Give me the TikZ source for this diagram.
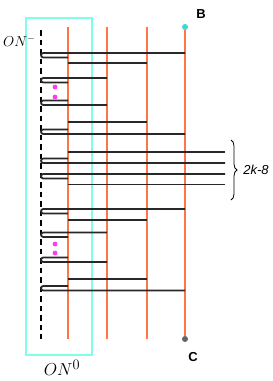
\documentclass[tikz,border=0pt]{standalone}
\usepackage{fontspec}
\setsansfont{Liberation Sans}
\usetikzlibrary{positioning, decorations.pathreplacing}

\definecolor{railorange}{RGB}{255,118,68}
\definecolor{boxcyan}{RGB}{125,255,232}
\definecolor{dotcyan}{RGB}{64,214,214}
\definecolor{dotgray}{RGB}{100,100,100}
\definecolor{dotpink}{RGB}{255,60,235}
\definecolor{wiregray}{RGB}{40,40,40}

\begin{document}
\begin{tikzpicture}[
    x=1pt, y=-1pt,
    wire/.style={line width=1.8pt, draw=wiregray},
    rail/.style={line width=1.2pt, draw=railorange},
    core/.style={line width=1.3pt, dash pattern=on 5.5pt off 4pt},
    frame/.style={rectangle, draw=boxcyan, line width=2pt,
                  minimum width=66pt, minimum height=337pt, inner sep=0pt},
    pin/.style={circle, inner sep=0pt, minimum size=6pt},
    crumb/.style={circle, fill=dotpink, inner sep=0pt, minimum size=4.8pt},
    tag/.style={font=\sffamily\bfseries\fontsize{13}{15}\selectfont},
    brace/.style={decorate, decoration={brace, amplitude=6pt}, line width=0.8pt}
]
  \useasboundingbox (0,0) rectangle (273,381);

  % Region box
  \node[frame, anchor=north west] (box) at (25,17) {};
  \node[font=\fontsize{19}{22}\selectfont, anchor=base] (on0) at (62,375.5) {$ON^0$};

  % Dashed core line
  \coordinate (core) at (41,30);
  \coordinate (coreend) at (41,339);
  \coordinate (hk) at (43.3,30);
  \draw[core] (core) -- (coreend);
  \node[font=\fontsize{14}{16}\selectfont, anchor=base west, inner sep=0pt] (onm) at (3,46.5) {$ON^-$};

  % Rails
  \coordinate (r1) at (68,27);
  \coordinate (r2) at (107,27);
  \coordinate (r3) at (147,27);
  \coordinate (tail) at (225,27);
  \draw[rail] (r1) -- (r1 |- 0,339);
  \draw[rail] (r2) -- (r2 |- 0,339);
  \draw[rail] (r3) -- (r3 |- 0,339);

  % End points
  \node[pin, fill=dotcyan] (B) at (185,27) {};
  \node[pin, fill=dotgray] (C) at (185,339) {};
  \draw[rail] (B) -- (C);
  \node[tag] (Btag) at (201,14) {B};
  \node[tag] (Ctag) at (193,357) {C};

  % Upper part
  \draw[wire] (r1 |- 0,57.5) -- (hk |- 0,57.5) .. controls +(-3,0) and +(-3,0) .. (hk |- 0,53) -- (B |- 0,53);
  \draw[wire] (r1 |- 0,63) -- (r3 |- 0,63);
  \draw[wire] (r1 |- 0,82.5) -- (hk |- 0,82.5) .. controls +(-3,0) and +(-3,0) .. (hk |- 0,78) -- (r2 |- 0,78);
  \node[crumb] (p1) at (55,87) {};
  \node[crumb] (p2) at (55,97) {};
  \draw[wire] (r1 |- 0,100.5) -- (hk |- 0,100.5) .. controls +(-3,0) and +(-3,0) .. (hk |- 0,105) -- (r2 |- 0,105);
  \draw[wire] (r1 |- 0,122) -- (r3 |- 0,122);
  \draw[wire] (r1 |- 0,129.5) -- (hk |- 0,129.5) .. controls +(-3,0) and +(-3,0) .. (hk |- 0,134) -- (B |- 0,134);

  % Middle part
  \draw[wire] (r1 |- 0,152) -- (tail |- 0,152);
  \draw[wire] (r1 |- 0,158.5) -- (hk |- 0,158.5) .. controls +(-3,0) and +(-3,0) .. (hk |- 0,163) -- (tail |- 0,163);
  \draw[wire] (r1 |- 0,178.5) -- (hk |- 0,178.5) .. controls +(-3,0) and +(-3,0) .. (hk |- 0,174) -- (tail |- 0,174);
  \draw[wire] (r1 |- 0,184.5) -- (tail |- 0,184.5);
  \draw[brace] (231,140) -- (231,200);
  \node[font=\sffamily\itshape\fontsize{13}{15}\selectfont] (count) at (256,170) {2k-8};

  % Lower part
  \draw[wire] (r1 |- 0,213.5) -- (hk |- 0,213.5) .. controls +(-3,0) and +(-3,0) .. (hk |- 0,209) -- (B |- 0,209);
  \draw[wire] (r1 |- 0,220) -- (r3 |- 0,220);
  \draw[wire] (r1 |- 0,237) -- (hk |- 0,237) .. controls +(-3,0) and +(-3,0) .. (hk |- 0,232.5) -- (r2 |- 0,232.5);
  \node[crumb] (p3) at (55,244) {};
  \node[crumb] (p4) at (55,253) {};
  \draw[wire] (r1 |- 0,257.5) -- (hk |- 0,257.5) .. controls +(-3,0) and +(-3,0) .. (hk |- 0,262) -- (r2 |- 0,262);
  \draw[wire] (r1 |- 0,279) -- (r3 |- 0,279);
  \draw[wire] (r1 |- 0,286) -- (hk |- 0,286) .. controls +(-3,0) and +(-3,0) .. (hk |- 0,290.5) -- (B |- 0,290.5);
\end{tikzpicture}
\end{document}
